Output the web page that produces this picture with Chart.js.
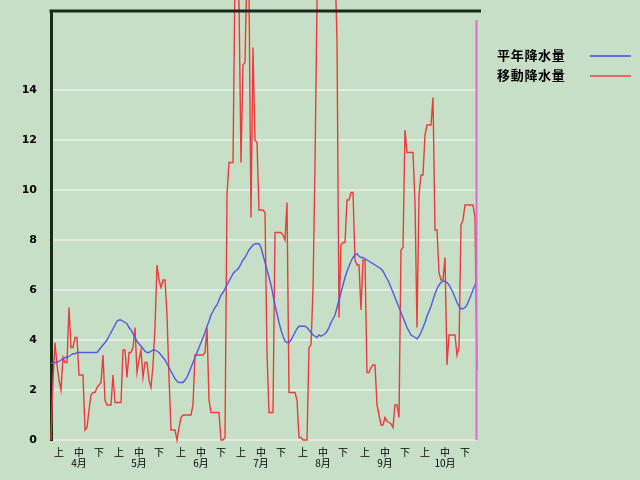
<!DOCTYPE html>
<html>
<head>
<meta charset="utf-8">
<script src="https://cdn.jsdelivr.net/npm/chart.js@4"></script>
<style>
  html, body { margin: 0; padding: 0; background: rgb(200,223,199); }
  #wrap { position: relative; width: 640px; height: 480px; }
  canvas { position: absolute; left: 0; top: 0; }
  .lg { position: absolute; left: 497px; height: 20px; line-height: 20px;
        font-family: "Noto Sans CJK JP", sans-serif; font-weight: bold; font-size: 13px;
        letter-spacing: 0.7px; color: #000; white-space: nowrap; }
  .sw { position: absolute; left: 590px; width: 41px; height: 2px; }
</style>
</head>
<body>
<div id="wrap">
  <canvas id="c" width="640" height="480"></canvas>
  <div class="lg" style="top:45px">平年降水量</div>
  <div class="sw" style="top:55px; background:#6070e4"></div>
  <div class="lg" style="top:65px">移動降水量</div>
  <div class="sw" style="top:75px; background:#e46a6a"></div>
</div>
<script>
// categories: daily from Apr 1 to Oct 31
const months = ['4月','5月','6月','7月','8月','9月','10月'];
const monthNums = [4,5,6,7,8,9,10];
const daysInMonth = [30,31,30,31,31,30,31];
const dekadNames = ['上','中','下'];
const dekadTickDays = [5,15,25];

// 平年降水量 (normal)
const normalRain = [
  3.05,3.1,3.1,3.1,3.15,3.2,3.25,3.3,3.3,3.35,
  3.4,3.45,3.45,3.5,3.5,3.5,3.5,3.5,3.5,3.5,
  3.5,3.5,3.5,3.5,3.6,3.7,3.8,3.9,4.0,4.15,
  4.3,4.45,4.6,4.75,4.8,4.8,4.75,4.7,4.65,4.5,
  4.4,4.25,4.1,3.95,3.85,3.75,3.65,3.55,3.5,3.5,
  3.55,3.6,3.6,3.55,3.5,3.4,3.3,3.2,3.05,2.9,
  2.75,2.6,2.45,2.35,2.3,2.3,2.3,2.4,2.5,2.7,
  2.9,3.1,3.3,3.5,3.7,3.9,4.1,4.3,4.55,4.75,
  5.0,5.15,5.3,5.4,5.6,5.8,5.9,6.05,6.2,6.35,
  6.5,6.65,6.75,6.8,6.9,7.05,7.2,7.3,7.45,7.6,
  7.7,7.8,7.85,7.85,7.85,7.7,7.4,7.1,6.8,6.5,
  6.2,5.8,5.4,5.05,4.7,4.4,4.15,3.95,3.9,3.9,
  4.0,4.15,4.3,4.45,4.55,4.55,4.55,4.55,4.5,4.4,
  4.3,4.2,4.15,4.1,4.2,4.15,4.2,4.25,4.35,4.5,
  4.7,4.85,5.0,5.3,5.6,5.9,6.2,6.5,6.75,6.95,
  7.15,7.3,7.4,7.45,7.35,7.3,7.3,7.25,7.2,7.15,
  7.1,7.05,7.0,6.95,6.9,6.85,6.75,6.6,6.45,6.3,
  6.1,5.9,5.7,5.5,5.3,5.1,4.9,4.7,4.5,4.35,
  4.2,4.15,4.1,4.05,4.15,4.3,4.5,4.7,4.95,5.15,
  5.35,5.6,5.85,6.05,6.2,6.3,6.35,6.35,6.3,6.2,
  6.05,5.9,5.7,5.5,5.35,5.25,5.25,5.3,5.4,5.6,
  5.8,6.0,6.2,6.45
];

// 移動降水量 (moving)
const movingRain = [
  0,2.4,3.9,3.0,2.4,2.0,3.3,3.1,3.1,5.3,
  3.7,3.7,4.1,4.1,2.6,2.6,2.6,0.4,0.5,1.2,
  1.8,1.9,1.9,2.1,2.2,2.3,3.4,1.6,1.4,1.4,
  1.4,2.6,1.5,1.5,1.5,1.5,3.6,3.6,2.5,3.5,
  3.5,3.7,4.5,2.7,3.2,3.6,2.5,3.1,3.1,2.4,
  2.1,3.0,4.5,7.0,6.4,6.1,6.4,6.4,5.0,2.5,
  0.4,0.4,0.4,0.0,0.5,0.9,1.0,1.0,1.0,1.0,
  1.0,1.4,3.4,3.4,3.4,3.4,3.4,3.5,4.5,1.6,
  1.1,1.1,1.1,1.1,1.1,0.0,0.0,0.1,9.8,11.1,
  11.1,11.1,18.5,18,17.5,11.1,15.0,15.1,19,18,
  8.9,15.7,12.0,11.9,9.2,9.2,9.2,9.1,3.5,1.1,
  1.1,1.1,8.3,8.3,8.3,8.3,8.2,8.0,9.5,1.9,
  1.9,1.9,1.9,1.6,0.1,0.1,0.0,0.0,0.0,3.7,
  3.8,6.0,11.0,17.5,19,19,20,20,19,20,
  19,19,19,16.0,4.9,7.8,7.9,7.9,9.6,9.6,
  9.9,9.9,7.2,7.0,7.0,5.2,7.2,7.2,2.7,2.7,
  2.9,3.0,3.0,1.4,1.0,0.6,0.6,0.9,0.75,0.7,
  0.65,0.5,1.4,1.4,0.9,7.6,7.7,12.4,11.5,11.5,
  11.5,11.5,9.5,4.5,9.8,10.6,10.6,12.2,12.6,12.6,
  12.6,13.7,8.4,8.4,6.7,6.4,6.4,7.3,3.0,4.2,
  4.2,4.2,4.2,3.4,3.7,8.6,8.8,9.4,9.4,9.4,
  9.4,9.4,8.9,2.8
];

const yTickValues = [0,2,4,6,8,10,12,14];
const yMax = 17.16;
const markerIndex = 213;   // vertical marker position (category index)
const markerTop = 16.8;    // marker top value

// build category labels
const labels = [];
const tickText = [];
for (let m = 0; m < months.length; m++) {
  for (let d = 1; d <= daysInMonth[m]; d++) {
    labels.push(monthNums[m] + '/' + d);
    const k = dekadTickDays.indexOf(d);
    if (k === 1) tickText.push([dekadNames[k], months[m]]);
    else if (k >= 0) tickText.push(dekadNames[k]);
    else tickText.push(null);
  }
}

const overlay = {
  id: 'overlay',
  afterDatasetsDraw(chart) {
    const {ctx, chartArea, scales} = chart;
    ctx.save();
    // top frame line
    ctx.strokeStyle = '#1a2a1a';
    ctx.lineWidth = 3;
    ctx.beginPath();
    ctx.moveTo(chartArea.left - 1.5, chartArea.top);
    ctx.lineTo(chartArea.right + 4, chartArea.top);
    ctx.stroke();
    // vertical marker
    const x = Math.round(scales.x.getPixelForValue(markerIndex)) - 0.5;
    ctx.strokeStyle = '#dc6cdc';
    ctx.lineWidth = 2;
    ctx.beginPath();
    ctx.moveTo(x, scales.y.getPixelForValue(markerTop));
    ctx.lineTo(x, scales.y.getPixelForValue(0));
    ctx.stroke();
    ctx.restore();
  }
};

new Chart(document.getElementById('c'), {
  type: 'line',
  data: {
    labels: labels,
    datasets: [
      { label: '平年降水量', data: normalRain, borderColor: '#5058e6', borderWidth: 1.4,
        pointRadius: 0, tension: 0, fill: false },
      { label: '移動降水量', data: movingRain, borderColor: '#ea3c3c', borderWidth: 1.4,
        pointRadius: 0, tension: 0, fill: false, clip: false }
    ]
  },
  options: {
    responsive: false,
    animation: false,
    events: [],
    layout: { padding: { top: 11, right: 163, left: 0, bottom: 0 } },
    plugins: { legend: { display: false }, tooltip: { enabled: false } },
    scales: {
      x: {
        type: 'category',
        offset: false,
        grid: { display: false, drawTicks: false },
        border: { display: false },
        afterFit(s) { s.height = 40; s.paddingLeft = 0; s.paddingRight = 0; },
        ticks: {
          autoSkip: false, maxRotation: 0, minRotation: 0, padding: 6,
          color: '#000',
          font: { family: '"Noto Sans CJK JP", sans-serif', size: 10, lineHeight: 1.15 },
          callback: (v, i) => tickText[i]
        }
      },
      y: {
        min: 0, max: yMax,
        afterBuildTicks(s) { s.ticks = yTickValues.map(v => ({ value: v })); },
        afterFit(s) { s.width = 51; s.paddingTop = 0; s.paddingBottom = 0; },
        grid: { color: 'rgba(232,242,232,0.75)', lineWidth: 2, drawTicks: false },
        border: { display: true, color: '#1a2a1a', width: 3 },
        ticks: {
          padding: 14, color: '#000',
          font: { family: '"DejaVu Sans", sans-serif', size: 11, weight: 'bold' }
        }
      }
    }
  },
  plugins: [overlay]
});
</script>
</body>
</html>
